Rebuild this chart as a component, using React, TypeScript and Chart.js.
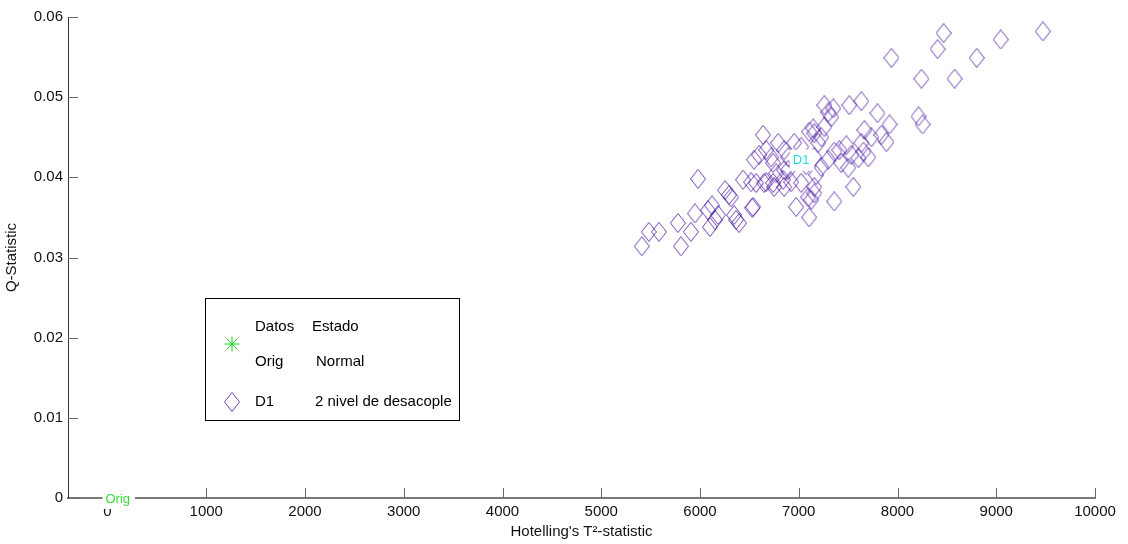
import React, { useEffect, useRef } from 'react';
import { Chart, registerables } from 'chart.js';

Chart.register(...registerables);

// D1 (2 nivel de desacople): Hotelling's T^2 vs Q-statistic
const d1T2 = [
  9472, 9045, 8467, 8406, 7939, 8802, 8578, 8243, 7634, 7797, 7919, 8213, 8254,
  5411, 5482, 5584, 5776, 5807, 5908, 5949, 5980, 6122, 6101, 6152, 6183, 6254,
  6294, 6345, 6396, 6365, 6528, 6436, 6568, 6650, 6599, 6639, 6670, 6721, 6741,
  6842, 6853, 6974, 6924, 7025, 7106, 7106, 7157, 7198, 7512, 7259, 7299, 7350,
  7330, 7259, 7157, 7228, 7665, 7736, 7837, 7888, 7634, 7482, 7411, 7360, 7533,
  7655, 7705, 7604, 7431, 7299, 7228, 7157, 7502, 7553, 7360, 7127, 6893, 7005,
  6792, 6548, 6741, 6893, 6954, 7025, 7147, 6853, 6771, 6518, 6751, 6853, 6081,
  6538, 7096, 7157, 6315, 6670, 7076, 7177,
];
const d1Q = [
  0.0582, 0.0572, 0.058, 0.056, 0.0549, 0.0549, 0.0523, 0.0523, 0.0495, 0.048, 0.0466, 0.0476, 0.0466,
  0.0314, 0.0332, 0.0332, 0.0343, 0.0314, 0.0332, 0.0355, 0.0398, 0.0365, 0.0338, 0.0347, 0.0353, 0.0384,
  0.0378, 0.0353, 0.0343, 0.0347, 0.0362, 0.0397, 0.0393, 0.0393, 0.0428, 0.0453, 0.0434, 0.0425, 0.0393,
  0.0397, 0.0434, 0.0363, 0.0394, 0.0393, 0.0457, 0.035, 0.038, 0.0443, 0.049, 0.049, 0.0481, 0.0486,
  0.0475, 0.0463, 0.0455, 0.045, 0.0459, 0.045, 0.0453, 0.0444, 0.0443, 0.044, 0.0434, 0.0432, 0.0428,
  0.0432, 0.0425, 0.0424, 0.0418, 0.0422, 0.0413, 0.0425, 0.0412, 0.0388, 0.037, 0.0372, 0.0409, 0.0422,
  0.0443, 0.0422, 0.0418, 0.0425, 0.0443, 0.0438, 0.0461, 0.0409, 0.0405, 0.0394, 0.0388, 0.0388, 0.0359,
  0.0363, 0.0375, 0.0388, 0.0375, 0.0394, 0.0415, 0.0403,
];

// Orig (Normal)
const origT2 = [0];
const origQ = [0];

// Text labels placed on the data
const markLabels = ['Orig', 'D1'];
const markLabelT2 = [0, 6960];
const markLabelQ = [0, 0.0422];

const xTicks = [0, 1000, 2000, 3000, 4000, 5000, 6000, 7000, 8000, 9000, 10000];
const xTickLabels = ['0', '1000', '2000', '3000', '4000', '5000', '6000', '7000', '8000', '9000', '10000'];
const yTicks = [0, 0.01, 0.02, 0.03, 0.04, 0.05, 0.06];
const yTickLabels = ['0', '0.01', '0.02', '0.03', '0.04', '0.05', '0.06'];

const legendHeader = ['Datos', 'Estado'];
const legendNames = ['Orig', 'D1'];
const legendStates = ['Normal', '2 nivel de desacople'];

const FONT = '"Liberation Sans", Arial, sans-serif';
const PURPLE = 'rgba(75, 20, 160, 0.8)';
const GREEN = '#22cc22';

function makeDiamond(w: number, h: number, color: string) {
  const c = document.createElement('canvas');
  c.width = w;
  c.height = h;
  const g = c.getContext('2d')!;
  g.strokeStyle = color;
  g.lineWidth = 1;
  g.beginPath();
  g.moveTo(w / 2, 0.5);
  g.lineTo(w - 0.5, h / 2);
  g.lineTo(w / 2, h - 0.5);
  g.lineTo(0.5, h / 2);
  g.closePath();
  g.stroke();
  return c;
}

export default function App() {
  const ref = useRef<HTMLCanvasElement | null>(null);

  useEffect(() => {
    const canvas = ref.current;
    if (!canvas) return;
    const diamond = makeDiamond(16, 20, PURPLE);

    const decor = {
      id: 'decor',
      afterDraw(chart: any) {
        const ctx = chart.ctx as CanvasRenderingContext2D;
        const xs = chart.scales.x;
        const ys = chart.scales.y;
        const area = chart.chartArea;
        ctx.save();
        // inward tick marks
        ctx.strokeStyle = '#6a6a6a';
        ctx.lineWidth = 1;
        xTicks.forEach((v) => {
          const px = Math.round(xs.getPixelForValue(v)) + 0.5;
          ctx.beginPath();
          ctx.moveTo(px, area.bottom);
          ctx.lineTo(px, area.bottom - 10);
          ctx.stroke();
        });
        yTicks.forEach((v) => {
          const py = Math.round(ys.getPixelForValue(v)) + 0.5;
          ctx.beginPath();
          ctx.moveTo(area.left, py);
          ctx.lineTo(area.left + 10, py);
          ctx.stroke();
        });

        // data labels with white background
        ctx.font = `13px ${FONT}`;
        ctx.textBaseline = 'middle';
        ctx.textAlign = 'left';
        markLabels.forEach((t, i) => {
          const px = xs.getPixelForValue(markLabelT2[i]);
          const py = ys.getPixelForValue(markLabelQ[i]);
          const w = ctx.measureText(t).width;
          ctx.fillStyle = '#ffffff';
          ctx.fillRect(px - 5, py - 10, w + 8, 21);
          ctx.fillStyle = i === 0 ? '#33dd33' : '#22dddd';
          ctx.fillText(t, px - 2, py + 1);
        });

        // legend box
        const lx = 205.5, ly = 298.5, lw = 254, lh = 122;
        ctx.fillStyle = '#ffffff';
        ctx.fillRect(lx, ly, lw, lh);
        ctx.strokeStyle = '#000000';
        ctx.lineWidth = 1;
        ctx.strokeRect(lx, ly, lw, lh);

        ctx.font = `15px ${FONT}`;
        ctx.fillStyle = '#000000';
        ctx.textBaseline = 'middle';
        ctx.fillText(legendHeader[0], 255, 327);
        ctx.fillText(legendHeader[1], 312, 327);
        ctx.fillText(legendNames[0], 255, 362);
        ctx.fillText(legendStates[0], 316, 362);
        ctx.fillText(legendNames[1], 255, 402);
        ctx.fillText(legendStates[1], 315, 402);

        // legend markers
        ctx.strokeStyle = GREEN;
        ctx.lineWidth = 1;
        const sx = 232, sy = 344, r = 7.5;
        ctx.beginPath();
        ctx.moveTo(sx - r, sy); ctx.lineTo(sx + r, sy);
        ctx.moveTo(sx, sy - r); ctx.lineTo(sx, sy + r);
        const d = r * Math.SQRT1_2;
        ctx.moveTo(sx - d, sy - d); ctx.lineTo(sx + d, sy + d);
        ctx.moveTo(sx - d, sy + d); ctx.lineTo(sx + d, sy - d);
        ctx.stroke();
        ctx.drawImage(diamond, 232 - 8, 402 - 10);
        ctx.restore();
      },
    };

    const chart = new Chart(canvas, {
      type: 'scatter',
      data: {
        datasets: [
          {
            label: 'Orig',
            data: origT2.map((x, i) => ({ x, y: origQ[i] })),
            pointStyle: 'star',
            radius: 5,
            borderColor: GREEN,
            backgroundColor: GREEN,
            borderWidth: 1,
          },
          {
            label: 'D1',
            data: d1T2.map((x, i) => ({ x, y: d1Q[i] })),
            pointStyle: diamond as any,
            radius: 8,
            borderColor: PURPLE,
            backgroundColor: 'transparent',
          },
        ],
      },
      plugins: [decor],
      options: {
        responsive: false,
        animation: false,
        devicePixelRatio: 1,
        layout: { padding: { top: 17, right: 33, left: 0, bottom: 0 } },
        plugins: {
          legend: { display: false },
          tooltip: { enabled: false },
          title: { display: false },
        },
        scales: {
          x: {
            type: 'linear',
            position: 'bottom',
            min: -400,
            max: 10000,
            afterBuildTicks: (s: any) => {
              s.ticks = xTicks.map((v) => ({ value: v }));
            },
            afterFit: (s: any) => {
              s.height = 46;
            },
            grid: { display: false, drawTicks: false },
            border: { display: true, color: '#7a7a7a', width: 2 },
            ticks: {
              padding: 5,
              color: '#111111',
              font: { size: 15, family: FONT },
              maxRotation: 0,
              autoSkip: false,
              callback: (_v: any, i: number) => xTickLabels[i],
            },
            title: {
              display: true,
              text: "Hotelling's T²-statistic",
              color: '#111111',
              font: { size: 15, family: FONT },
              padding: { top: 0, bottom: 3 },
            },
          },
          y: {
            type: 'linear',
            position: 'left',
            min: 0,
            max: 0.06,
            afterBuildTicks: (s: any) => {
              s.ticks = yTicks.map((v) => ({ value: v }));
            },
            afterFit: (s: any) => {
              s.width = 68;
            },
            grid: { display: false, drawTicks: false },
            border: { display: true, color: '#333333', width: 1 },
            ticks: {
              padding: 5,
              color: '#111111',
              font: { size: 15, family: FONT },
              autoSkip: false,
              callback: (_v: any, i: number) => yTickLabels[i],
            },
            title: {
              display: true,
              text: 'Q-Statistic',
              color: '#111111',
              font: { size: 15, family: FONT },
              padding: { top: 3, bottom: 0 },
            },
          },
        },
      },
    });
    return () => chart.destroy();
  }, []);

  return (
    <div style={{ position: 'absolute', left: 0, top: 0, width: 1128, height: 544, background: '#fff' }}>
      <canvas ref={ref} width={1128} height={544} />
    </div>
  );
}
